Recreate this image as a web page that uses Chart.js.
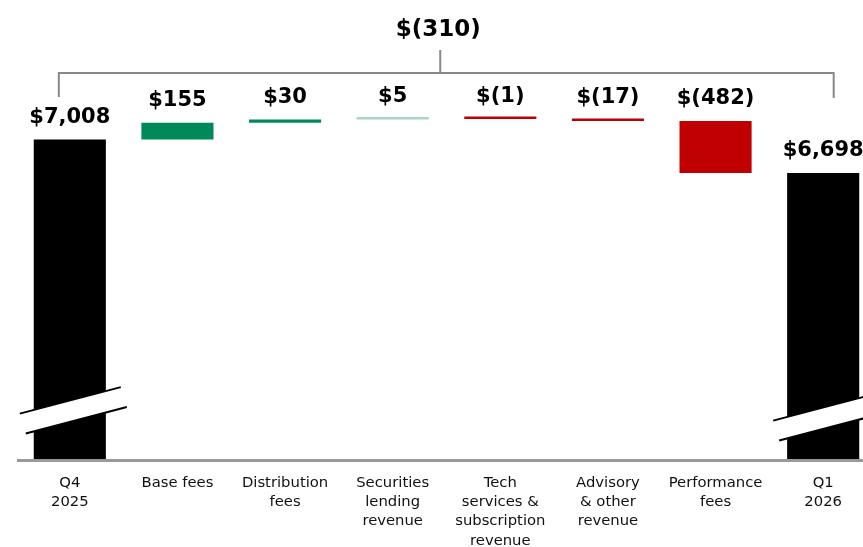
<!DOCTYPE html>
<html>
<head>
<meta charset="utf-8">
<script src="https://cdn.jsdelivr.net/npm/chart.js@4.4.1/dist/chart.umd.min.js"></script>
<style>
  html, body { margin: 0; padding: 0; background: #fff; overflow: hidden; }
  #wrap { width: 863px; height: 547px; overflow: hidden; position: relative; }
  #wrap canvas { position: absolute; left: 0; top: 0; }
</style>
</head>
<body>
<div id="wrap"><canvas id="waterfall" width="877" height="547"></canvas></div>
<script>
// data
const categories = [
  ['Q4', '2025'],
  'Base fees',
  ['Distribution', 'fees'],
  ['Securities', 'lending', 'revenue'],
  ['Tech', 'services &', 'subscription', 'revenue'],
  ['Advisory', '& other', 'revenue'],
  ['Performance', 'fees'],
  ['Q1', '2026']
];
const startValue = 7008;
const changes = [155, 30, 5, -1, -17, -482];
const valueLabels = ['$7,008', '$155', '$30', '$5', '$(1)', '$(17)', '$(482)', '$6,698'];
const totalLabel = '$(310)';
const barColors = ['#000000', '#008a5a', '#008a5a', '#a9d4c6', '#c00000', '#c00000', '#c00000', '#000000'];

// broken axis floor
const yMin = 4050;
const yMax = 8300;

// build floating ranges for waterfall
let running = startValue;
const ranges = [[yMin, startValue]];
for (const c of changes) {
  ranges.push([running, running + c]);
  running += c;
}
ranges.push([yMin, running]);

const boldFont = 'bold 21px "DejaVu Sans", sans-serif';

const decorations = {
  id: 'decorations',
  afterDatasetsDraw(chart) {
    const c = chart.ctx;
    const meta = chart.getDatasetMeta(0);
    const area = chart.chartArea;
    const y = chart.scales.y;

    // axis line
    c.save();
    c.fillStyle = '#999999';
    c.fillRect(17, area.bottom, area.right - 17, 3);

    // axis break marks on the total bars
    const breaks = [[0, 58.5], [meta.data.length - 1, 51.5]];
    for (const [i, off] of breaks) {
      const cx = meta.data[i].x;
      const cy = area.bottom - off;
      const s = 0.262;
      const up = [[cx - 50, cy + 50 * s], [cx + 51, cy - 51 * s]];
      const lo = [[cx - 44, cy + 21.5 + 44 * s], [cx + 57, cy + 21.5 - 57 * s]];
      c.fillStyle = '#ffffff';
      c.beginPath();
      c.moveTo(up[0][0], up[0][1]);
      c.lineTo(up[1][0], up[1][1]);
      c.lineTo(lo[1][0], lo[1][1]);
      c.lineTo(lo[0][0], lo[0][1]);
      c.closePath();
      c.fill();
      c.strokeStyle = '#000000';
      c.lineWidth = 2;
      for (const l of [up, lo]) {
        c.beginPath();
        c.moveTo(l[0][0], l[0][1]);
        c.lineTo(l[1][0], l[1][1]);
        c.stroke();
      }
    }

    // value labels
    c.font = boldFont;
    c.fillStyle = '#000000';
    c.textAlign = 'center';
    c.textBaseline = 'middle';
    meta.data.forEach((bar, i) => {
      const top = y.getPixelForValue(Math.max(ranges[i][0], ranges[i][1]));
      c.fillText(valueLabels[i], bar.x, top - 22);
    });

    // bracket with total change
    const left = meta.data[0].x - 11;
    const right = meta.data[meta.data.length - 1].x + 10.5;
    const mid = (left + right) / 2 - 6;
    c.strokeStyle = '#888888';
    c.lineWidth = 2;
    c.beginPath();
    c.moveTo(left, 97);
    c.lineTo(left, 73);
    c.lineTo(right, 73);
    c.lineTo(right, 98);
    c.moveTo(mid, 73);
    c.lineTo(mid, 50);
    c.stroke();
    c.font = 'bold 23px "DejaVu Sans", sans-serif';
    c.fillText(totalLabel, mid - 2, 30);
    c.restore();
  }
};

new Chart(document.getElementById('waterfall'), {
  type: 'bar',
  data: {
    labels: categories,
    datasets: [{
      data: ranges,
      backgroundColor: barColors,
      borderWidth: 0,
      barPercentage: 0.67,
      categoryPercentage: 1,
      minBarLength: 2.5
    }]
  },
  options: {
    responsive: false,
    animation: false,
    layout: { padding: { left: 16, right: 0, top: 0, bottom: 0 } },
    plugins: {
      legend: { display: false },
      tooltip: { enabled: false }
    },
    scales: {
      x: {
        grid: { display: false, drawTicks: false },
        border: { display: false },
        ticks: {
          padding: 14,
          color: '#111111',
          maxRotation: 0,
          autoSkip: false,
          font: { family: '"DejaVu Sans", sans-serif', size: 14.8, lineHeight: 1.31 }
        },
        afterFit: s => { s.height = 88; }
      },
      y: {
        display: false,
        min: yMin,
        max: yMax
      }
    }
  },
  plugins: [decorations]
});
</script>
</body>
</html>
